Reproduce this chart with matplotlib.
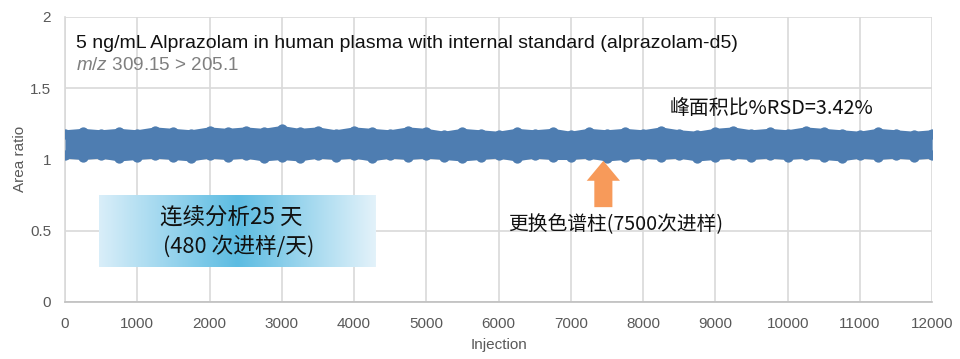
import matplotlib.pyplot as plt
import numpy as np
from matplotlib.colors import LinearSegmentedColormap
from matplotlib.patches import FancyArrow

plt.rcParams['font.family'] = ['Liberation Sans', 'DejaVu Sans']
plt.rcParams['mathtext.fontset'] = 'custom'
plt.rcParams['mathtext.it'] = 'Liberation Sans:italic'
plt.rcParams['mathtext.rm'] = 'Liberation Sans'
cjk = ['Noto Sans CJK SC', 'DejaVu Sans']

# Data: envelope of the area-ratio band, read every 250 injections
injection = list(range(0, 12001, 250))
upper = [1.18, 1.19, 1.18, 1.19, 1.18, 1.20, 1.19, 1.18, 1.20, 1.19,
         1.20, 1.19, 1.21, 1.19, 1.20, 1.18, 1.20, 1.19, 1.18, 1.20,
         1.19, 1.17, 1.19, 1.18, 1.17, 1.19, 1.18, 1.19, 1.17, 1.19,
         1.18, 1.19, 1.18, 1.20, 1.18, 1.17, 1.19, 1.20, 1.18, 1.19,
         1.18, 1.20, 1.19, 1.18, 1.17, 1.19, 1.18, 1.17, 1.18]
lower = [1.03, 1.02, 1.03, 1.01, 1.02, 1.03, 1.02, 1.01, 1.03, 1.02,
         1.03, 1.01, 1.02, 1.01, 1.03, 1.02, 1.03, 1.01, 1.03, 1.02,
         1.03, 1.02, 1.01, 1.02, 1.03, 1.01, 1.03, 1.02, 1.02, 1.03,
         1.01, 1.02, 1.03, 1.02, 1.03, 1.01, 1.02, 1.03, 1.02, 1.03,
         1.02, 1.03, 1.02, 1.01, 1.03, 1.02, 1.03, 1.02, 1.03]
xticks = list(range(0, 12001, 1000))
yticks = [0, 0.5, 1, 1.5, 2]

blue = '#4e7db1'
gray = '#595959'

fig = plt.figure(figsize=(9.6, 3.59), dpi=100)
ax = fig.add_axes([0.0677, 0.159, 0.9033, 0.794])

ax.fill_between(injection, lower, upper, color=blue, lw=0, zorder=3)
ax.scatter(injection, upper, s=55, color=blue, lw=0, zorder=3)
ax.scatter(injection, lower, s=55, color=blue, lw=0, zorder=3)
ax.plot(injection, upper, color=blue, lw=5, solid_capstyle='round', zorder=3)
ax.plot(injection, lower, color=blue, lw=5, solid_capstyle='round', zorder=3)

ax.set_xlim(0, 12000)
ax.set_ylim(0, 2)
ax.set_xticks(xticks)
ax.set_yticks(yticks)
ax.set_yticklabels(['0', '0.5', '1', '1.5', '2'])
ax.tick_params(axis='x', length=0, colors=gray, labelsize=11, pad=11)
ax.tick_params(axis='y', length=0, colors=gray, labelsize=11, pad=10)
ax.grid(True, color='#d9d9d9', lw=1.2)
ax.set_axisbelow(True)
for s in ['top', 'right']:
    ax.spines[s].set_visible(False)
ax.spines['left'].set_color('#d9d9d9')
ax.spines['bottom'].set_color('#bfbfbf')
ax.spines['left'].set_linewidth(1.2)
ax.spines['bottom'].set_linewidth(1.2)
ax.set_xlabel('Injection', color=gray, fontsize=11, labelpad=5)
ax.set_ylabel('Area ratio', color=gray, fontsize=11, labelpad=2)

ax.text(0.013, 0.905, '5 ng/mL Alprazolam in human plasma with internal standard (alprazolam-d5)',
        transform=ax.transAxes, fontsize=14, color='#111111', va='center')
ax.text(0.013, 0.83, r'$\it{m/z}$ 309.15 > 205.1', transform=ax.transAxes,
        fontsize=13.6, color='#7f7f7f', va='center')
ax.text(0.697, 0.68, '峰面积比%RSD=3.42%', transform=ax.transAxes,
        fontsize=14.3, family=cjk, color='#111111', va='center')

# gradient box
cmap = LinearSegmentedColormap.from_list('g', ['#d9eef9', '#5cbce2', '#e3f2fa'])
grad = np.linspace(0, 1, 256).reshape(1, -1)
ax.imshow(grad, cmap=cmap, aspect='auto', transform=ax.transAxes,
          extent=[0.039, 0.358, 0.123, 0.375], zorder=4)
ax.text(0.11, 0.293, '连续分析25 天', transform=ax.transAxes, fontsize=16.2,
        family=cjk, color='#111111', ha='left', va='center', zorder=5)
ax.text(0.113, 0.195, '(480 次进样/天)', transform=ax.transAxes, fontsize=15.7,
        family=cjk, color='#111111', ha='left', va='center', zorder=5)

# column change arrow
arrow = FancyArrow(7450, 0.665, 0, 0.325, width=250, head_width=460,
                   head_length=0.14, length_includes_head=True,
                   color='#f79a5a', lw=0, zorder=5)
ax.add_patch(arrow)
ax.text(6130, 0.54, '更换色谱柱(7500次进样)', fontsize=14.2, family=cjk,
        color='#111111', ha='left', va='center', zorder=5)

fig.savefig('out.png', dpi=100)
